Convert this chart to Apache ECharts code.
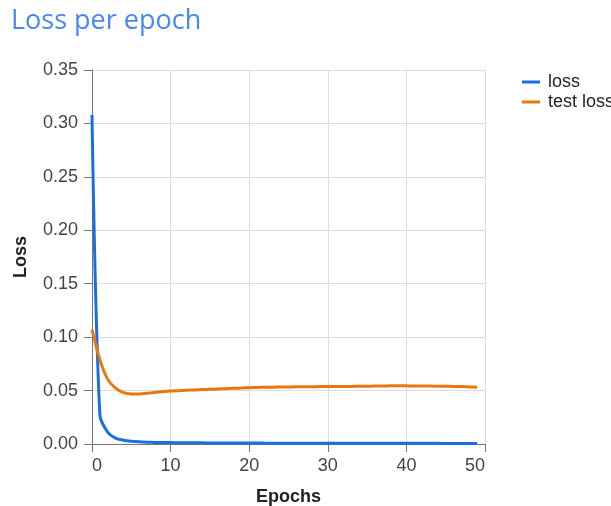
<!DOCTYPE html>
<html>
<head>
<meta charset="utf-8">
<script src="https://cdn.jsdelivr.net/npm/echarts@6/dist/echarts.min.js"></script>
<style>
html,body{margin:0;padding:0;background:#ffffff;}
#chart{width:611px;height:506px;}
</style>
</head>
<body>
<div id="chart"></div>
<script>
const epochs = [0,1,2,3,4,5,6,7,8,9,10,11,12,13,14,15,16,17,18,19,20,21,22,23,24,25,26,27,28,29,30,31,32,33,34,35,36,37,38,39,40,41,42,43,44,45,46,47,48,49];
const lossValues = [0.308,0.027,0.011,0.0055,0.0035,0.0025,0.002,0.0017,0.0015,0.0014,0.0013,0.0012,0.0012,0.0011,0.0011,0.001,0.001,0.001,0.0009,0.0009,0.0009,0.0009,0.0008,0.0008,0.0008,0.0008,0.0008,0.0007,0.0007,0.0007,0.0007,0.0007,0.0007,0.0007,0.0006,0.0006,0.0006,0.0006,0.0006,0.0006,0.0006,0.0006,0.0006,0.0006,0.0006,0.0005,0.0005,0.0005,0.0005,0.0005];
const testLossValues = [0.107,0.079,0.0605,0.0522,0.048,0.0469,0.0469,0.0475,0.0482,0.0489,0.0495,0.0499,0.0503,0.0506,0.0509,0.0512,0.0515,0.0518,0.0521,0.0524,0.0527,0.0529,0.0531,0.0532,0.0533,0.0534,0.0535,0.0536,0.0536,0.0537,0.0537,0.0538,0.0538,0.0539,0.0540,0.0541,0.0542,0.0543,0.0544,0.0544,0.0544,0.0543,0.0543,0.0542,0.0541,0.0540,0.0539,0.0537,0.0534,0.0531];
const yTicks = [0, 0.05, 0.10, 0.15, 0.20, 0.25, 0.30, 0.35];
const xTicks = [0, 10, 20, 30, 40, 50];

const chart = echarts.init(document.getElementById('chart'), null, {renderer:'canvas'});
const font = 'Liberation Sans, Arial, sans-serif';
chart.setOption({
  backgroundColor: '#ffffff',
  animation: false,
  title: {
    text: 'Loss per epoch',
    left: 6, top: 3,
    textStyle: {color:'#4a86f0', fontSize: 27, fontWeight: 'normal', fontFamily: '"Open Sans", sans-serif'}
  },
  legend: {
    orient: 'vertical',
    left: 517, top: 68,
    itemWidth: 18, itemHeight: 3, itemGap: 2,
    icon: 'rect',
    textStyle: {color:'#222', fontSize: 18, fontFamily: font, padding:[0,0,0,3]},
    data: ['loss','test loss']
  },
  grid: {left: 92, right: 126, top: 70, bottom: 62, containLabel: false, outerBoundsMode: 'none'},
  xAxis: {
    type: 'value', min: xTicks[0], max: xTicks[xTicks.length-1], interval: 10,
    name: 'Epochs', nameLocation: 'middle', nameGap: 44,
    nameTextStyle: {color:'#222', fontSize: 18, fontWeight:'bold', fontFamily: font},
    axisLine: {show:true, onZero:false, lineStyle:{color:'#777', width:1}},
    axisTick: {show:true, length: 8, lineStyle:{color:'#777'}},
    axisLabel: {color:'#444', fontSize: 18, fontFamily: font, margin: 13, alignMinLabel:'left', alignMaxLabel:'right'},
    splitLine: {show:true, lineStyle:{color:'#dcdcdc', width:1}}
  },
  yAxis: {
    type: 'value', min: yTicks[0], max: yTicks[yTicks.length-1], interval: 0.05,
    name: 'Loss', nameLocation: 'middle', nameGap: 62,
    nameTextStyle: {color:'#222', fontSize: 18, fontWeight:'bold', fontFamily: font},
    axisLine: {show:true, lineStyle:{color:'#777', width:1}},
    axisTick: {show:true, length: 8, lineStyle:{color:'#777'}},
    axisLabel: {color:'#444', fontSize: 18, fontFamily: font, margin: 14, formatter: v => v.toFixed(2)},
    splitLine: {show:true, lineStyle:{color:'#dcdcdc', width:1}}
  },
  series: [
    {name:'loss', type:'line', data: epochs.map((e,i)=>[e, lossValues[i]]), showSymbol:false, smooth:0.3,
     lineStyle:{color:'#1a6fe0', width:3}, itemStyle:{color:'#1a6fe0'}},
    {name:'test loss', type:'line', data: epochs.map((e,i)=>[e, testLossValues[i]]), showSymbol:false, smooth:0.3,
     lineStyle:{color:'#e8780c', width:3}, itemStyle:{color:'#e8780c'}}
  ]
});
</script>
</body>
</html>
